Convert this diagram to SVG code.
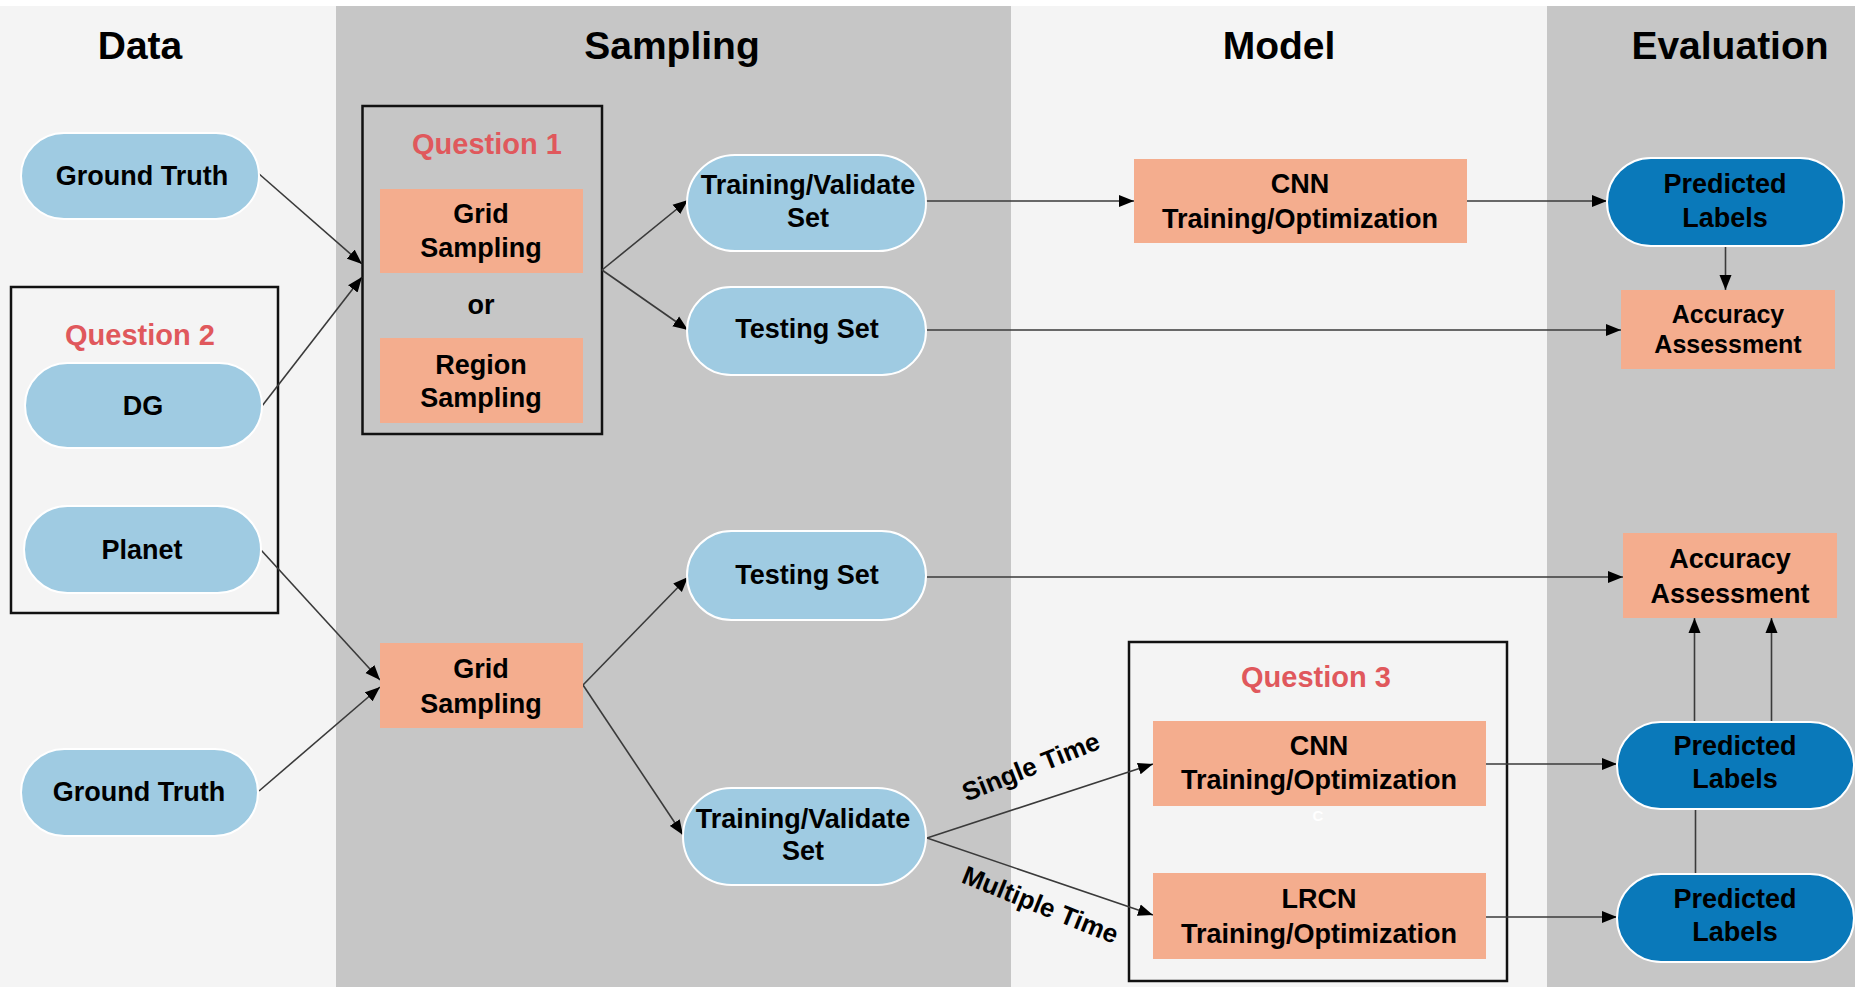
<svg xmlns="http://www.w3.org/2000/svg" width="1855" height="987" viewBox="0 0 1855 987">
<defs>
<style>
text{font-family:"Liberation Sans",Arial,sans-serif;font-weight:bold;fill:#000;text-anchor:middle}
.title{font-size:39px}
.lbl{font-size:27px}
.q{font-size:29px;fill:#E0585C}
.el{font-size:26px}
.pill{fill:#9FCBE2;stroke:#ffffff;stroke-width:2}
.dpill{fill:#0A79BA;stroke:#ffffff;stroke-width:2}
.box{fill:#F4AD8E}
.frame{fill:none;stroke:#111;stroke-width:2.5}
.con line{stroke:#3a3a3a;stroke-width:1.6;fill:none}
</style>
<marker id="arr" markerUnits="userSpaceOnUse" markerWidth="16" markerHeight="13" refX="15" refY="6.5" orient="auto">
<path d="M0,0.5 L15,6.5 L0,12.5 z" fill="#000"/>
</marker>
</defs>
<g id="background">
<rect x="0" y="0" width="1855" height="987" fill="#ffffff"/>
<rect x="0" y="6" width="336" height="981" fill="#F4F4F4"/>
<rect x="336" y="6" width="675" height="981" fill="#C6C6C6"/>
<rect x="1011" y="6" width="536" height="981" fill="#F4F4F4"/>
<rect x="1547" y="6" width="308" height="981" fill="#C6C6C6"/>
<text class="title" x="140" y="59">Data</text>
<text class="title" x="672" y="59">Sampling</text>
<text class="title" x="1279" y="59">Model</text>
<text class="title" x="1730" y="59">Evaluation</text>
</g>
<g id="question2">
<rect class="frame" x="11" y="287" width="267" height="326"/>
<text class="q" x="140" y="345">Question 2</text>
</g>
<g id="question1">
<rect class="frame" x="362.5" y="106" width="239.5" height="328"/>
<text class="q" x="487" y="154">Question 1</text>
<text class="lbl" x="481" y="314">or</text>
</g>
<g id="question3">
<rect class="frame" x="1129" y="642" width="378" height="339"/>
<text class="q" x="1316" y="687">Question 3</text>
</g>
<g id="connectors" class="con">
<line x1="258" y1="173" x2="362" y2="264" marker-end="url(#arr)"/>
<line x1="262" y1="406" x2="362" y2="277" marker-end="url(#arr)"/>
<line x1="602" y1="270" x2="688" y2="200" marker-end="url(#arr)"/>
<line x1="602" y1="270" x2="688" y2="330" marker-end="url(#arr)"/>
<line x1="926" y1="201" x2="1134" y2="201" marker-end="url(#arr)"/>
<line x1="1467" y1="201" x2="1607" y2="201" marker-end="url(#arr)"/>
<line x1="927" y1="330" x2="1621" y2="330" marker-end="url(#arr)"/>
<line x1="1725.5" y1="246" x2="1725.5" y2="290" marker-end="url(#arr)"/>
<line x1="261" y1="550" x2="380" y2="680" marker-end="url(#arr)"/>
<line x1="259" y1="791" x2="380" y2="687" marker-end="url(#arr)"/>
<line x1="583" y1="685" x2="688" y2="577" marker-end="url(#arr)"/>
<line x1="583" y1="685" x2="683" y2="835" marker-end="url(#arr)"/>
<line x1="927" y1="577" x2="1623" y2="577" marker-end="url(#arr)"/>
<line x1="927" y1="838" x2="1153" y2="764" marker-end="url(#arr)"/>
<line x1="927" y1="838" x2="1153" y2="915" marker-end="url(#arr)"/>
<line x1="1486" y1="764" x2="1617" y2="764" marker-end="url(#arr)"/>
<line x1="1486" y1="917" x2="1617" y2="917" marker-end="url(#arr)"/>
<line x1="1694.5" y1="722" x2="1694.5" y2="618" marker-end="url(#arr)"/>
<line x1="1771.5" y1="722" x2="1771.5" y2="618" marker-end="url(#arr)"/>
<line x1="1695.5" y1="874" x2="1695.5" y2="809"/>
<text class="el" transform="translate(1034,775) rotate(-21.6)">Single Time</text>
<text class="el" transform="translate(1037,913) rotate(22)">Multiple Time</text>
</g>
<g id="gt1"><rect class="pill" x="21" y="133" width="238" height="86" rx="43"/><text class="lbl" x="142" y="185">Ground Truth</text></g>
<g id="dg"><rect class="pill" x="25" y="363" width="237" height="85" rx="42.5"/><text class="lbl" x="143" y="415">DG</text></g>
<g id="planet"><rect class="pill" x="24" y="506" width="237" height="87" rx="43.5"/><text class="lbl" x="142" y="559">Planet</text></g>
<g id="gt2"><rect class="pill" x="21" y="749" width="237" height="87" rx="43.5"/><text class="lbl" x="139" y="801">Ground Truth</text></g>
<g id="grid1"><rect class="box" x="380" y="189" width="203" height="84"/><text class="lbl" x="481" y="223">Grid</text><text class="lbl" x="481" y="257">Sampling</text></g>
<g id="region1"><rect class="box" x="380" y="338" width="203" height="85"/><text class="lbl" x="481" y="374">Region</text><text class="lbl" x="481" y="407">Sampling</text></g>
<g id="grid2"><rect class="box" x="380" y="643" width="203" height="85"/><text class="lbl" x="481" y="678">Grid</text><text class="lbl" x="481" y="713">Sampling</text></g>
<g id="trainval1"><rect class="pill" x="687" y="155" width="239" height="96" rx="48"/><text class="lbl" x="808" y="194">Training/Validate</text><text class="lbl" x="808" y="227">Set</text></g>
<g id="test1"><rect class="pill" x="687" y="287" width="239" height="88" rx="44"/><text class="lbl" x="807" y="338">Testing Set</text></g>
<g id="test2"><rect class="pill" x="687" y="531" width="239" height="89" rx="44.5"/><text class="lbl" x="807" y="584">Testing Set</text></g>
<g id="trainval2"><rect class="pill" x="683" y="788" width="243" height="97" rx="48.5"/><text class="lbl" x="803" y="828">Training/Validate</text><text class="lbl" x="803" y="860">Set</text></g>
<g id="cnn1"><rect class="box" x="1134" y="159" width="333" height="84"/><text class="lbl" x="1300" y="193">CNN</text><text class="lbl" x="1300" y="228">Training/Optimization</text></g>
<g id="cnn2"><rect class="box" x="1153" y="721" width="333" height="85"/><text class="lbl" x="1319" y="755">CNN</text><text class="lbl" x="1319" y="789">Training/Optimization</text><text x="1318" y="821" style="font-size:15px;fill:#ffffff">C</text></g>
<g id="lrcn"><rect class="box" x="1153" y="873" width="333" height="86"/><text class="lbl" x="1319" y="908">LRCN</text><text class="lbl" x="1319" y="943">Training/Optimization</text></g>
<g id="pred1"><rect class="dpill" x="1607" y="158" width="237" height="88" rx="44"/><text class="lbl" x="1725" y="193">Predicted</text><text class="lbl" x="1725" y="227">Labels</text></g>
<g id="acc1"><rect class="box" x="1621" y="290" width="214" height="79"/><text x="1728" y="323" style="font-size:25px">Accuracy</text><text x="1728" y="353" style="font-size:25px">Assessment</text></g>
<g id="acc2"><rect class="box" x="1623" y="533" width="214" height="85"/><text class="lbl" x="1730" y="568">Accuracy</text><text class="lbl" x="1730" y="603">Assessment</text></g>
<g id="pred2"><rect class="dpill" x="1617" y="722" width="237" height="87" rx="43.5"/><text class="lbl" x="1735" y="755">Predicted</text><text class="lbl" x="1735" y="788">Labels</text></g>
<g id="pred3"><rect class="dpill" x="1617" y="874" width="237" height="88" rx="44"/><text class="lbl" x="1735" y="908">Predicted</text><text class="lbl" x="1735" y="941">Labels</text></g>
</svg>
